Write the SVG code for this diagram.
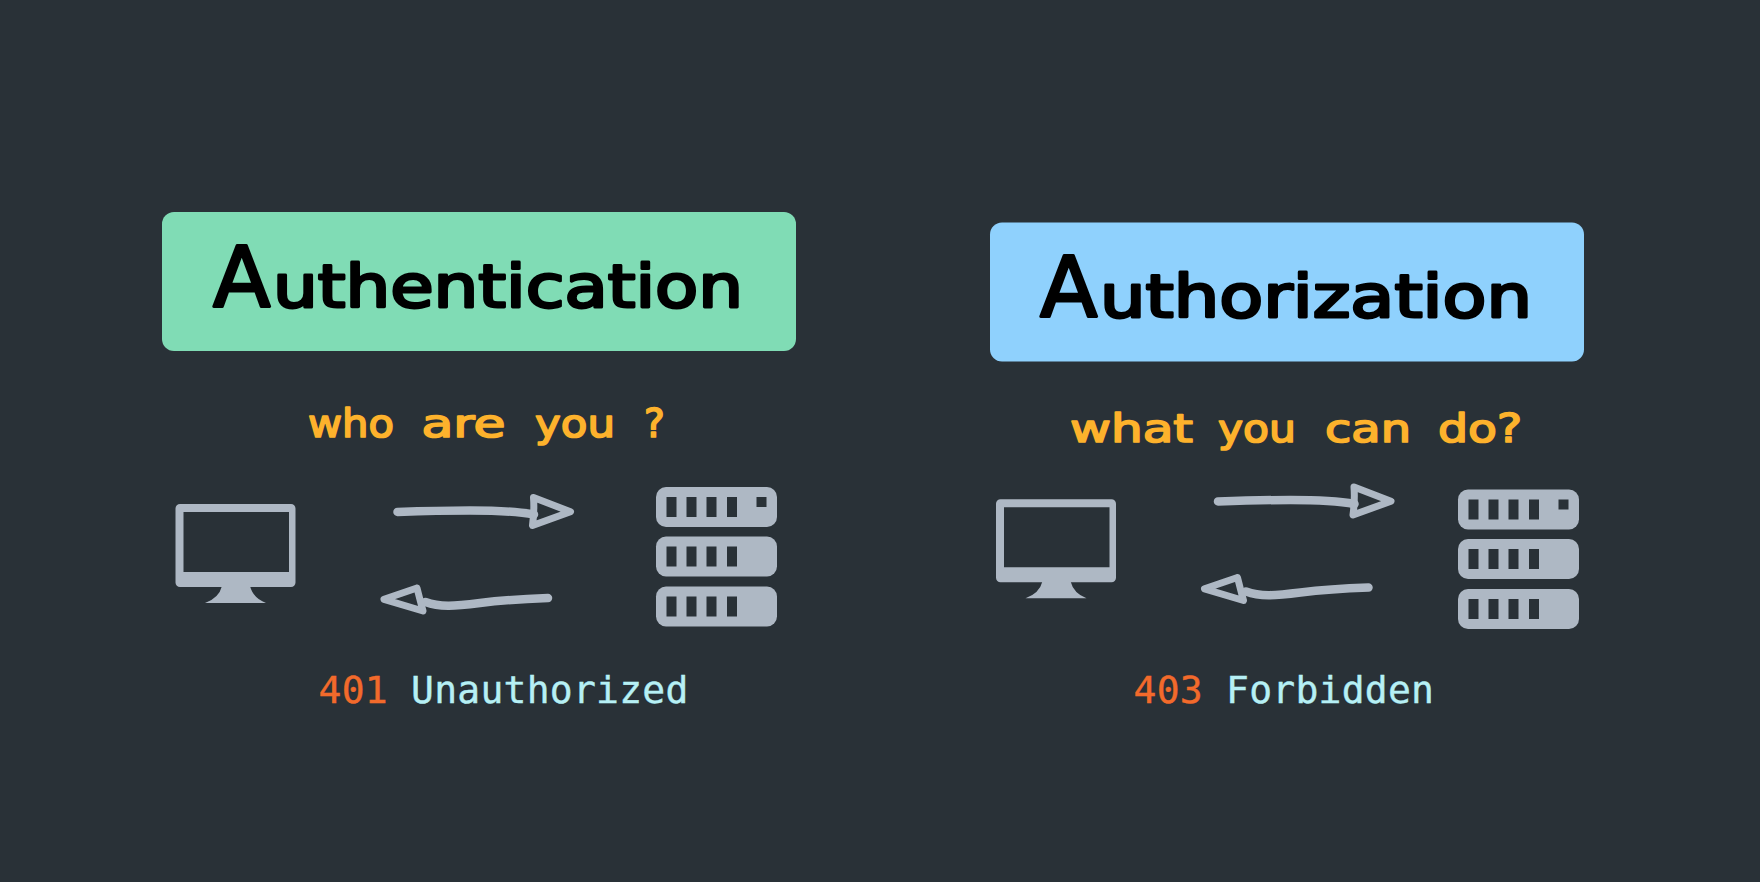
<svg xmlns="http://www.w3.org/2000/svg" xmlns:xlink="http://www.w3.org/1999/xlink" width="1760" height="882" viewBox="0 0 1760 882">
<style>
.bg{fill:#293137}
.ico{fill:#aeb8c4}
.hole{fill:#293137}
.card{stroke:none}
.title{font-family:"DejaVu Sans","Liberation Sans",sans-serif;font-size:58px;fill:#000;stroke:#000;stroke-width:2.8px;stroke-linejoin:round;stroke-linecap:round;font-variant-ligatures:none}
.big{font-size:84px}
.ask{font-family:"DejaVu Sans","Liberation Sans",sans-serif;font-size:39px;fill:#fdb22c;stroke:#fdb22c;stroke-width:1.7px;stroke-linejoin:round;font-variant-ligatures:none}
.code{font-family:"DejaVu Sans Mono","Liberation Mono",monospace;font-size:38px;letter-spacing:.25px;stroke-width:.4px}
.num{fill:#f26a2b;stroke:#f26a2b}
.msg{fill:#b6f0f5;stroke:#b6f0f5}
.wire{fill:none;stroke:#aeb8c4;stroke-width:7px;stroke-linecap:round;stroke-linejoin:round}
.shaft{stroke-width:8.500px}
</style>
<defs>
<g id="monitor">
<path class="ico" fill-rule="evenodd" d="M180 504H291a4.500 4.500 0 0 1 4.500 4.500V582.500a4.500 4.500 0 0 1-4.500 4.500H180a4.500 4.500 0 0 1-4.500-4.500V508.500a4.500 4.500 0 0 1 4.500-4.500ZM183.500 512V572H289V512Z"/>
<path class="ico" d="M222 586H250Q253 598 266 603H205Q219 598 222 586Z"/>
</g>
<g id="rack">
<rect class="ico" x="0" y="0" width="121" height="40" rx="10"/>
<rect class="ico" x="0" y="49.500" width="121" height="40" rx="10"/>
<rect class="ico" x="0" y="99.500" width="121" height="40" rx="10"/>
<g class="hole">
<rect x="10.500" y="10" width="10" height="20"/><rect x="30.500" y="10" width="10" height="20"/><rect x="50.500" y="10" width="10" height="20"/><rect x="71" y="10" width="10" height="20"/><rect x="100.500" y="10" width="10" height="10"/>
<rect x="10.500" y="59.500" width="10" height="20"/><rect x="30.500" y="59.500" width="10" height="20"/><rect x="50.500" y="59.500" width="10" height="20"/><rect x="71" y="59.500" width="10" height="20"/>
<rect x="10.500" y="109.500" width="10" height="20"/><rect x="30.500" y="109.500" width="10" height="20"/><rect x="50.500" y="109.500" width="10" height="20"/><rect x="71" y="109.500" width="10" height="20"/>
</g>
</g>
<g id="arrows">
<path class="shaft" d="M397.500 512C425 511 450 510.500 470 510.500C495 510.500 515 511 534 514.500"/>
<path d="M533.500 497.500L570.500 511.700L532.500 525.500Q534.500 510 533.500 497.500Z"/>
<path class="shaft" d="M548 598C520 599 500 600.500 480 603C455 606 440 607.500 425.500 602"/>
<path d="M417 588L384 599.300L423 611Q420 600 417 588Z"/>
</g>
</defs>
<rect class="bg" width="1760" height="882"/>
<g id="connectors" class="wire">
<use id="left-arrows" xlink:href="#arrows" href="#arrows"/>
<use id="right-arrows" xlink:href="#arrows" href="#arrows" transform="translate(820.500 -10.500)"/>
</g>
<g id="authentication">
<rect class="card" x="162" y="212" width="634" height="139" rx="12" fill="#80dcb5"/>
<text class="title" y="307"><tspan class="big" x="213">A</tspan><tspan x="273" textLength="470" lengthAdjust="spacingAndGlyphs">uthentication</tspan></text>
</g>
<g id="authorization">
<rect class="card" x="990" y="222.500" width="594" height="139" rx="12" fill="#8fd1fd"/>
<text class="title" y="317"><tspan class="big" x="1040">A</tspan><tspan x="1100" textLength="432" lengthAdjust="spacingAndGlyphs">uthorization</tspan></text>
</g>
<g id="who-are-you"><text class="ask" y="437"><tspan x="308" textLength="86" lengthAdjust="spacingAndGlyphs">who</tspan> <tspan x="421.500" textLength="84" lengthAdjust="spacingAndGlyphs">are</tspan> <tspan x="535" textLength="80" lengthAdjust="spacingAndGlyphs">you</tspan> <tspan x="644">?</tspan></text></g>
<g id="what-you-can-do"><text class="ask" y="442"><tspan x="1070" textLength="123" lengthAdjust="spacingAndGlyphs">what</tspan> <tspan x="1218" textLength="78" lengthAdjust="spacingAndGlyphs">you</tspan> <tspan x="1325" textLength="86" lengthAdjust="spacingAndGlyphs">can</tspan> <tspan x="1438" textLength="84" lengthAdjust="spacingAndGlyphs">do?</tspan></text></g>
<g id="client-left"><use xlink:href="#monitor" href="#monitor"/></g>
<g id="client-right"><use xlink:href="#monitor" href="#monitor" transform="translate(820.500 -4.700)"/></g>
<g id="server-left"><use xlink:href="#rack" href="#rack" transform="translate(656 487)"/></g>
<g id="server-right"><use xlink:href="#rack" href="#rack" transform="translate(1458 489.500)"/></g>
<g id="status-401"><text class="code" x="318.500" y="703"><tspan class="num">401</tspan> <tspan class="msg">Unauthorized</tspan></text></g>
<g id="status-403"><text class="code" x="1133.500" y="703"><tspan class="num">403</tspan> <tspan class="msg">Forbidden</tspan></text></g>
</svg>
